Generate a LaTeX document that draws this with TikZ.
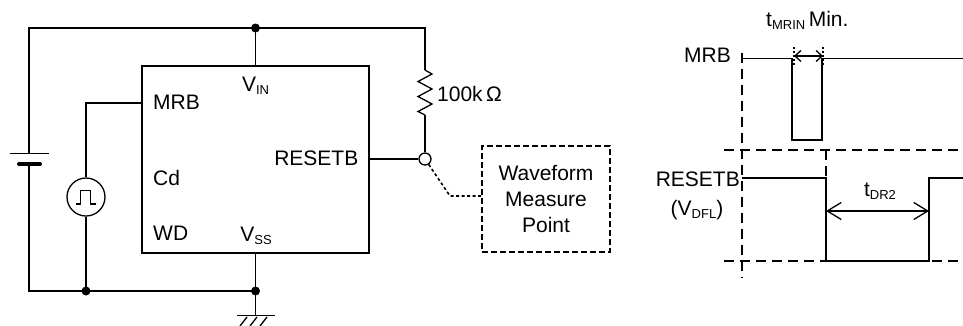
\documentclass[tikz,border=0pt]{standalone}
\usepackage{fontspec}
\setmainfont{Liberation Sans}
\usetikzlibrary{arrows.meta}
\newcommand{\lowsub}[1]{\raisebox{-3pt}{\fontsize{13}{13}\selectfont #1}}
\begin{document}
\begin{tikzpicture}[x=1pt,y=-1pt,
  wire/.style={line width=1.3pt},
  lbl/.style={inner sep=0pt, font=\fontsize{21}{25.7}\selectfont},
  jdot/.style={circle, fill=black, inner sep=0pt, minimum size=9pt},
  tdash/.style={line width=1.3pt, dash pattern=on 10pt off 6pt},
  dotline/.style={line width=1.6pt, dash pattern=on 3pt off 2.5pt},
  bigarrow/.style={line width=1.3pt, {Straight Barb[length=14pt,width=17pt]}-{Straight Barb[length=14pt,width=17pt]}},
  smallarrow/.style={line width=1.3pt, {Straight Barb[length=6pt,width=11pt]}-{Straight Barb[length=6pt,width=11pt]}}
]
\useasboundingbox (0,0) rectangle (963,325);

% ---------- circuit ----------
\node[draw, wire, minimum width=227pt, minimum height=187pt, inner sep=0pt] (ic) at (255.5,159.5) {};
\node[circle, draw, wire, minimum size=38pt, inner sep=0pt] (ps) at (86,197) {};
\node[circle, draw, wire, fill=white, minimum size=12pt, inner sep=0pt] (rc) at (425,159) {};
\node[draw, line width=1.2pt, dash pattern=on 6pt off 3pt, minimum width=128pt, minimum height=106pt,
      align=center, lbl] (wmp) at (546,199) {Waveform\\Measure\\Point};

\coordinate (tl) at (29,28);
\coordinate (tj) at (255.5,28);
\coordinate (tr) at (425,28);
\coordinate (bt) at (29,153.5);
\coordinate (bb) at (29,164);
\coordinate (bl) at (29,291);
\coordinate (bj1) at (86,291);
\coordinate (bj2) at (255.5,291);
\coordinate (gnd) at (255.5,315.5);
\coordinate (rt) at (425,70);
\coordinate (rb) at (425,115);
\coordinate (mrbpin) at (142,103);
\coordinate (bend) at (450,196);

\draw[wire] (bt) -- (tl) -- (tr) -- (rt);
\draw[wire] (tj) -- (tj |- ic.north);
\draw[wire] (rt) -- (432,74) -- (418,81.5) -- (432,89) -- (418,96.5) -- (432,104) -- (418,111.5) -- (rb);
\draw[wire] (rb) -- (rc);
\draw[wire] (ic.east |- rc) -- (rc);
\draw[wire] (mrbpin) -- (ps |- mrbpin) -- (ps.north);
\draw[wire] (ps.south) -- (bj1);
\draw[wire] (bb) -- (bl) -- (bj2);
\draw[wire] (bj2 |- ic.south) -- (bj2) -- (gnd);
\draw[dotline] (rc) -- (bend) -- (bend -| wmp.west);

% battery
\draw[line width=1.3pt] (9.5,153.5) -- (48.5,153.5);
\draw[line width=4pt, line cap=round] (19,164) -- (40,164);

% pulse symbol
\draw[line width=1.3pt] (76,204) -- (80.5,204) -- (80.5,190.5) -- (90.5,190.5) -- (90.5,204) -- (96,204);

% ground
\draw[wire] (237,315.5) -- (275,315.5);
\draw[line width=1.3pt] (247,317) -- (240,326) (257,317) -- (250,326) (267,317) -- (260,326);

% junction dots
\node[jdot] (d1) at (tj) {};
\node[jdot] (d2) at (bj1) {};
\node[jdot] (d3) at (bj2) {};

% circuit labels
\node[lbl, anchor=base] (vin) at (255.5,91) {V\lowsub{IN}};
\node[lbl, anchor=base west] (mrb) at (153,109.3) {MRB};
\node[lbl, anchor=base west] (cd) at (153,185) {Cd};
\node[lbl, anchor=base west] (wd) at (153,240.7) {WD};
\node[lbl, anchor=base] (vss) at (256,241.5) {V\lowsub{SS}};
\node[lbl, anchor=base east] (rst) at (358.5,165.7) {RESETB};
\node[lbl, anchor=base west] (res) at (437,101) {100k\,Ω};

% ---------- timing ----------
\draw[tdash] (742,53) -- (742,278);
\draw[tdash] (724,150) -- (963,150);
\draw[tdash] (724,261) -- (963,261);
\draw[tdash] (826,150) -- (826,178);

\draw[wire] (742,58.5) -- (792,58.5) -- (792,140) -- (822,140) -- (822,58.5) -- (963,58.5);
\draw[wire] (742,178) -- (826,178) -- (826,261) -- (929,261) -- (929,178) -- (963,178);

\draw[line width=1.2pt, dash pattern=on 2pt off 2pt] (794,47) -- (794,66);
\draw[line width=1.2pt, dash pattern=on 2pt off 2pt] (823,47) -- (823,66);
\draw[smallarrow] (794,56) -- (823,56);
\draw[bigarrow] (826,211) -- (929,211);

\node[lbl, anchor=base west] (tmrin) at (766,26.7) {t\lowsub{MRIN}\,Min.};
\node[lbl, anchor=base east] (mrbt) at (731,62.3) {MRB};
\node[lbl, anchor=base east] (rstt) at (740,186.7) {RESETB};
\node[lbl, anchor=base] (vdfl) at (697,215) {(V\lowsub{DFL})};
\node[lbl, anchor=base] (tdr) at (880,196.7) {t\lowsub{DR2}};
\end{tikzpicture}
\end{document}
